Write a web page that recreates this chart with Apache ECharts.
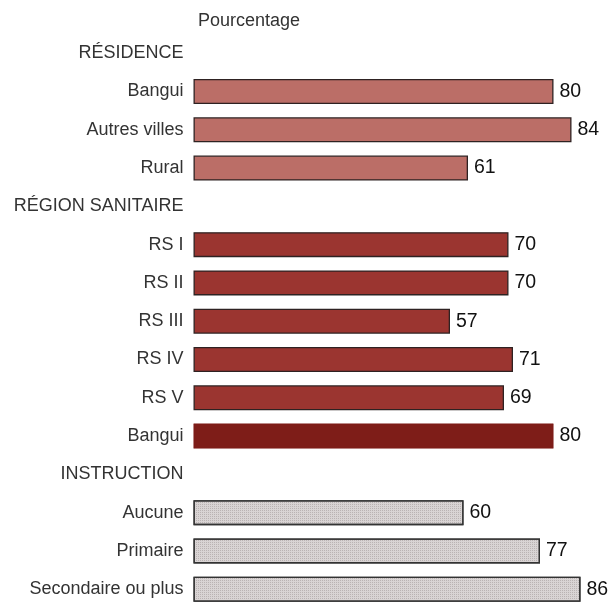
<!DOCTYPE html>
<html>
<head>
<meta charset="utf-8">
<script src="https://cdn.jsdelivr.net/npm/echarts@6/dist/echarts.min.js"></script>
<style>
  html, body { margin: 0; padding: 0; background: #fff; }
  #chart { width: 615px; height: 603px; }
</style>
</head>
<body>
<div id="chart"></div>
<script>
// Row labels, top to bottom (section headers carry no value)
const categories = [
  'RÉSIDENCE', 'Bangui', 'Autres villes', 'Rural',
  'RÉGION SANITAIRE', 'RS I', 'RS II', 'RS III', 'RS IV', 'RS V', 'Bangui ',
  'INSTRUCTION', 'Aucune', 'Primaire', 'Secondaire ou plus'
];
// Percentage per row
const values = [
  null, 80, 84, 61,
  null, 70, 70, 57, 71, 69, 80,
  null, 60, 77, 86
];
// Group each row belongs to (drives the bar style)
const groups = [
  'head', 'res', 'res', 'res',
  'head', 'rs', 'rs', 'rs', 'rs', 'rs', 'rsCap',
  'head', 'edu', 'edu', 'edu'
];
const axisTitle = 'Pourcentage';

// Fine dot screen used on the education bars
const dotScreen = {
  symbol: 'rect',
  symbolSize: 1,
  dashArrayX: [1, 1],
  dashArrayY: [1, 1],
  rotation: 0,
  color: 'rgba(140, 130, 130, 0.4)'
};

const styles = {
  res:   { color: '#bb6e67', borderColor: '#2e2222', borderWidth: 1.3 },
  rs:    { color: '#9b3530', borderColor: '#2e2222', borderWidth: 1.3 },
  rsCap: { color: '#7e1d18', borderColor: '#7e1d18', borderWidth: 0.5 },
  edu:   { color: '#d9d4d4', borderColor: '#333', borderWidth: 1.3, decal: dotScreen }
};

const seriesData = values.map((v, i) => {
  if (v === null) return '-';
  return { value: v, itemStyle: styles[groups[i]] };
});

const chart = echarts.init(document.getElementById('chart'), null, { renderer: 'canvas' });
chart.setOption({
  backgroundColor: '#fff',
  animation: false,
  title: {
    text: axisTitle,
    left: 193,
    top: 7,
    textStyle: { fontFamily: 'Liberation Sans', fontSize: 18, fontWeight: 'normal', color: '#333' }
  },
  grid: { left: 193.5, right: 16.5, top: 53.2, bottom: 13.8, containLabel: false },
  xAxis: {
    type: 'value',
    min: 0,
    max: 90,
    show: false
  },
  yAxis: {
    type: 'category',
    data: categories,
    inverse: true,
    boundaryGap: false,
    axisLine: { show: false },
    axisTick: { show: false },
    splitLine: { show: false },
    axisLabel: {
      margin: 10,
      fontFamily: 'Liberation Sans',
      fontSize: 18,
      color: '#333',
      formatter: v => v.trim()
    }
  },
  series: [{
    type: 'bar',
    data: seriesData,
    barWidth: 25,
    label: {
      show: true,
      position: 'right',
      distance: 6,
      fontFamily: 'Liberation Sans',
      fontSize: 19.5,
      color: '#111'
    }
  }]
});
</script>
</body>
</html>
